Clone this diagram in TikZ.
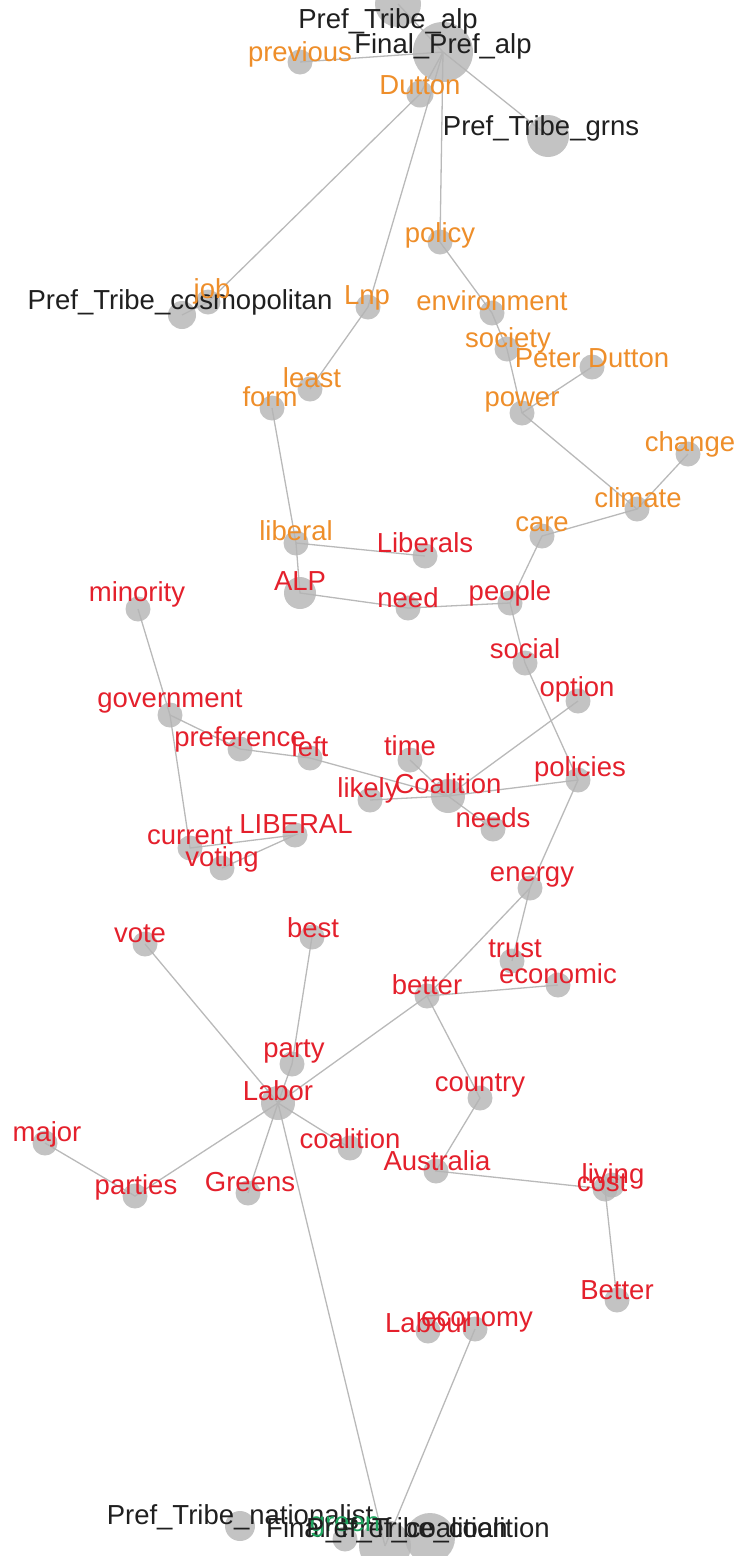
\documentclass[tikz,border=0pt]{standalone}
\usepackage{fontspec}
\setmainfont{Liberation Sans}
\usetikzlibrary{backgrounds}
\definecolor{wordorange}{RGB}{238,142,42}
\definecolor{wordred}{RGB}{228,32,44}
\definecolor{wordgreen}{RGB}{30,165,95}
\definecolor{vtxgray}{RGB}{180,180,180}
\definecolor{edgegray}{RGB}{185,185,185}
\begin{document}
\begin{tikzpicture}[x=1pt,y=-1pt,
    vtx/.style={circle, fill=vtxgray, fill opacity=0.8, inner sep=0pt, minimum size=#1},
    vtx/.default=25,
    tie/.style={edgegray, line width=1.3pt},
    txt/.style={font=\fontsize{27.5}{30}\selectfont, inner sep=0pt, text=#1},
    txt/.default=black!88]
  \clip (0,0) rectangle (734,1556);
  % vertices
  \node[vtx=46] (tribealp) at (398,4) {};
  \node[vtx=60] (finalalp) at (443,52) {};
  \node[vtx] (previous) at (300,62) {};
  \node[vtx=27] (dutton) at (420,94) {};
  \node[vtx=42] (tribegrns) at (548,136) {};
  \node[vtx] (policy) at (440,242) {};
  \node[vtx=28] (cosmo) at (182,315) {};
  \node[vtx] (job) at (208,302) {};
  \node[vtx] (lnp) at (368,307) {};
  \node[vtx] (environment) at (492,313) {};
  \node[vtx] (society) at (507,349) {};
  \node[vtx] (peterdutton) at (592,367) {};
  \node[vtx] (least) at (310,389) {};
  \node[vtx] (form) at (272,408) {};
  \node[vtx] (power) at (522,413) {};
  \node[vtx] (change) at (688,454) {};
  \node[vtx] (climate) at (637,509) {};
  \node[vtx] (care) at (542,536) {};
  \node[vtx] (liberal) at (296,543) {};
  \node[vtx] (liberals) at (425,556) {};
  \node[vtx=32] (alp) at (300,593) {};
  \node[vtx] (need) at (408,608) {};
  \node[vtx] (people) at (510,603) {};
  \node[vtx] (minority) at (138,609) {};
  \node[vtx] (social) at (525,663) {};
  \node[vtx] (option) at (578,701) {};
  \node[vtx] (government) at (170,715) {};
  \node[vtx] (preference) at (240,749) {};
  \node[vtx] (left) at (310,758) {};
  \node[vtx] (time) at (410,760) {};
  \node[vtx] (policies) at (578,780) {};
  \node[vtx=34] (coalitionC) at (448,796) {};
  \node[vtx] (likely) at (370,800) {};
  \node[vtx] (needs) at (493,829) {};
  \node[vtx] (liberalU) at (295,835) {};
  \node[vtx] (current) at (190,848) {};
  \node[vtx] (voting) at (222,868) {};
  \node[vtx] (energy) at (530,888) {};
  \node[vtx] (vote) at (145,944) {};
  \node[vtx] (best) at (312,937) {};
  \node[vtx] (trust) at (512,961) {};
  \node[vtx] (economic) at (558,985) {};
  \node[vtx] (better) at (427,996) {};
  \node[vtx] (party) at (292,1064) {};
  \node[vtx=34] (labor) at (278,1103) {};
  \node[vtx] (country) at (480,1098) {};
  \node[vtx] (major) at (45,1143) {};
  \node[vtx] (coalitionl) at (350,1148) {};
  \node[vtx] (australia) at (436,1171) {};
  \node[vtx] (cost) at (605,1189) {};
  \node[vtx] (living) at (612,1185) {};
  \node[vtx] (parties) at (135,1196) {};
  \node[vtx] (greens) at (248,1193) {};
  \node[vtx] (betterB) at (617,1300) {};
  \node[vtx] (labour) at (428,1331) {};
  \node[vtx] (economy) at (475,1329) {};
  \node[vtx=30] (tribenat) at (240,1526) {};
  \node[vtx] (green) at (345,1539) {};
  \node[vtx=52] (finalcoal) at (385,1546) {};
  \node[vtx=50] (tribecoal) at (430,1538) {};
  % edges
  \begin{scope}[on background layer]
    \draw[tie] (finalalp.center) -- (tribealp.center);
    \draw[tie] (finalalp.center) -- (previous.center);
    \draw[tie] (finalalp.center) -- (dutton.center) -- (job.center) -- (cosmo.center);
    \draw[tie] (finalalp.center) -- (lnp.center) -- (least.center);
    \draw[tie] (finalalp.center) -- (tribegrns.center);
    \draw[tie] (finalalp.center) -- (policy.center) -- (environment.center) -- (society.center) -- (power.center) -- (climate.center) -- (care.center) -- (people.center);
    \draw[tie] (peterdutton.center) -- (power.center);
    \draw[tie] (change.center) -- (climate.center);
    \draw[tie] (form.center) -- (liberal.center) -- (liberals.center);
    \draw[tie] (liberal.center) -- (alp.center) -- (need.center) -- (people.center) -- (social.center) -- (policies.center);
    \draw[tie] (option.center) -- (coalitionC.center) -- (policies.center);
    \draw[tie] (time.center) -- (coalitionC.center) -- (needs.center);
    \draw[tie] (likely.center) -- (coalitionC.center) -- (left.center);
    \draw[tie] (minority.center) -- (government.center) -- (preference.center) -- (left.center);
    \draw[tie] (government.center) -- (current.center) -- (liberalU.center) -- (voting.center);
    \draw[tie] (policies.center) -- (energy.center) -- (trust.center);
    \draw[tie] (energy.center) -- (better.center) -- (economic.center);
    \draw[tie] (better.center) -- (country.center) -- (australia.center) -- (cost.center) -- (betterB.center);
    \draw[tie] (better.center) -- (labor.center);
    \draw[tie] (vote.center) -- (labor.center) -- (party.center) -- (best.center);
    \draw[tie] (major.center) -- (parties.center) -- (labor.center);
    \draw[tie] (greens.center) -- (labor.center) -- (coalitionl.center);
    \draw[tie] (labor.center) -- (finalcoal.center);
    \draw[tie] (economy.center) -- (finalcoal.center);
  \end{scope}
  % labels
  \node[txt] (tribealp-t) at (388,21) {Pref\_Tribe\_alp};
  \node[txt] (finalalp-t) at (443,46) {Final\_Pref\_alp};
  \node[txt=wordorange] (previous-t) at (300,54) {previous};
  \node[txt=wordorange] (dutton-t) at (420,85) {Dutton};
  \node[txt] (tribegrns-t) at (541,128) {Pref\_Tribe\_grns};
  \node[txt=wordorange] (policy-t) at (440,235) {policy};
  \node[txt] (cosmo-t) at (180,302) {Pref\_Tribe\_cosmopolitan};
  \node[txt=wordorange] (job-t) at (212,291) {job};
  \node[txt=wordorange] (lnp-t) at (367,298) {Lnp};
  \node[txt=wordorange] (environment-t) at (492,301) {environment};
  \node[txt=wordorange] (society-t) at (508,340) {society};
  \node[txt=wordorange] (peterdutton-t) at (592,358) {Peter Dutton};
  \node[txt=wordorange] (least-t) at (312,378) {least};
  \node[txt=wordorange] (form-t) at (270,397) {form};
  \node[txt=wordorange] (power-t) at (522,402) {power};
  \node[txt=wordorange] (change-t) at (690,444) {change};
  \node[txt=wordorange] (climate-t) at (638,498) {climate};
  \node[txt=wordorange] (care-t) at (542,524) {care};
  \node[txt=wordorange] (liberal-t) at (296,531) {liberal};
  \node[txt=wordred] (liberals-t) at (425,543) {Liberals};
  \node[txt=wordred] (alp-t) at (300,581) {ALP};
  \node[txt=wordred] (need-t) at (408,598) {need};
  \node[txt=wordred] (people-t) at (510,593) {people};
  \node[txt=wordred] (minority-t) at (137,594) {minority};
  \node[txt=wordred] (social-t) at (525,649) {social};
  \node[txt=wordred] (option-t) at (577,689) {option};
  \node[txt=wordred] (government-t) at (170,701) {government};
  \node[txt=wordred] (preference-t) at (240,739) {preference};
  \node[txt=wordred] (left-t) at (310,747) {left};
  \node[txt=wordred] (time-t) at (410,746) {time};
  \node[txt=wordred] (policies-t) at (580,769) {policies};
  \node[txt=wordred] (coalitionC-t) at (448,784) {Coalition};
  \node[txt=wordred] (likely-t) at (368,790) {likely};
  \node[txt=wordred] (needs-t) at (493,818) {needs};
  \node[txt=wordred] (liberalU-t) at (296,824) {LIBERAL};
  \node[txt=wordred] (current-t) at (190,836) {current};
  \node[txt=wordred] (voting-t) at (222,859) {voting};
  \node[txt=wordred] (energy-t) at (532,877) {energy};
  \node[txt=wordred] (vote-t) at (140,934) {vote};
  \node[txt=wordred] (best-t) at (313,928) {best};
  \node[txt=wordred] (trust-t) at (515,949) {trust};
  \node[txt=wordred] (economic-t) at (558,974) {economic};
  \node[txt=wordred] (better-t) at (427,985) {better};
  \node[txt=wordred] (party-t) at (294,1051) {party};
  \node[txt=wordred] (labor-t) at (278,1091) {Labor};
  \node[txt=wordred] (country-t) at (480,1085) {country};
  \node[txt=wordred] (major-t) at (47,1134) {major};
  \node[txt=wordred] (coalitionl-t) at (350,1139) {coalition};
  \node[txt=wordred] (australia-t) at (437,1161) {Australia};
  \node[txt=wordred] (living-t) at (613,1176) {living};
  \node[txt=wordred] (cost-t) at (602,1183) {cost};
  \node[txt=wordred] (parties-t) at (136,1187) {parties};
  \node[txt=wordred] (greens-t) at (250,1182) {Greens};
  \node[txt=wordred] (betterB-t) at (617,1290) {Better};
  \node[txt=wordred] (labour-t) at (428,1323) {Labour};
  \node[txt=wordred] (economy-t) at (477,1322) {economy};
  \node[txt] (tribenat-t) at (240,1517) {Pref\_Tribe\_nationalist};
  \node[txt] (finalcoal-t) at (387,1530) {Final\_Pref\_coalition};
  \node[txt=wordgreen] (green-t) at (345,1527) {green};
  \node[txt] (tribecoal-t) at (428,1530) {Pref\_Tribe\_coalition};
\end{tikzpicture}
\end{document}
